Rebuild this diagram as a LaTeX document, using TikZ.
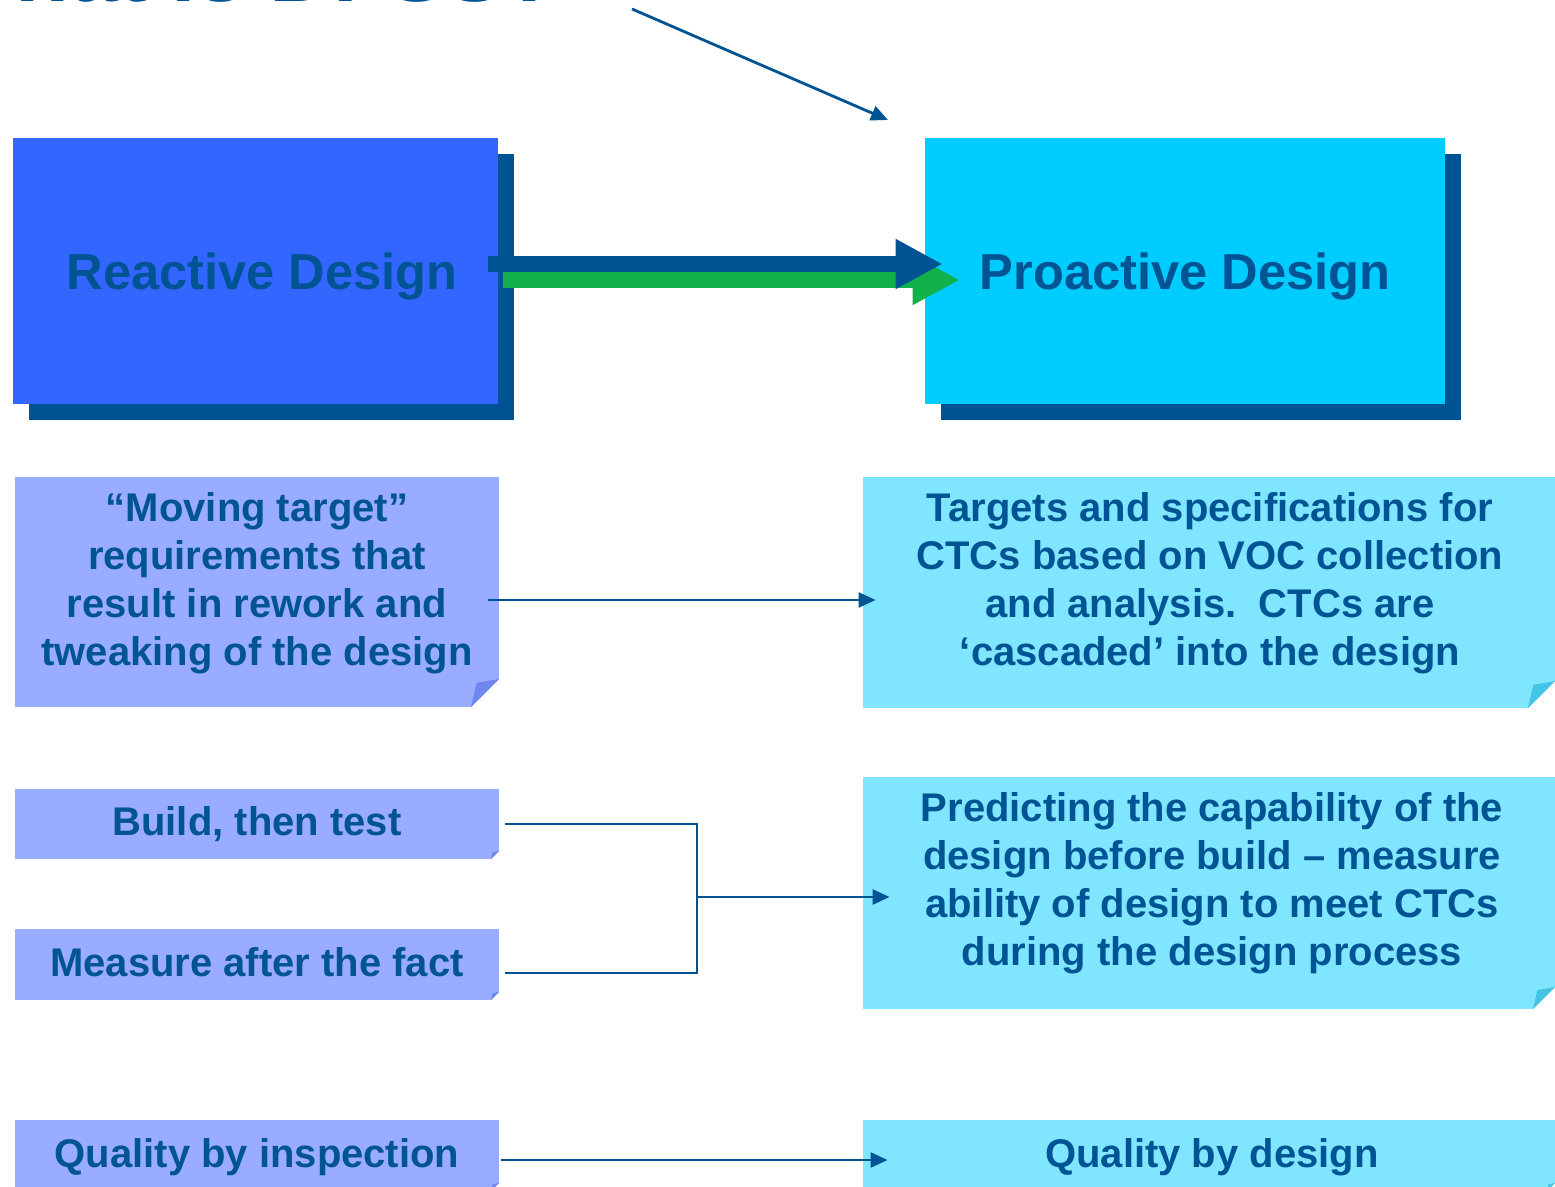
\documentclass[tikz,border=0pt]{standalone}
\usepackage{fontspec}
\setmainfont{Liberation Sans}
\usetikzlibrary{arrows.meta,calc,shadows}
\definecolor{dblue}{RGB}{0,84,147}
\definecolor{reactblue}{RGB}{51,102,255}
\definecolor{problue}{RGB}{0,204,255}
\definecolor{lnote}{RGB}{153,172,255}
\definecolor{lflap}{RGB}{110,134,238}
\definecolor{rnote}{RGB}{128,230,255}
\definecolor{rflap}{RGB}{69,196,229}
\definecolor{agreen}{RGB}{17,176,74}
\tikzset{
  fold/.style 2 args={path picture={
    \coordinate (SE) at (path picture bounding box.south east);
    \fill[white] (SE) -- ([xshift=-#1]SE) -- ([yshift=#1]SE) -- cycle;
    \fill[#2] ([xshift=-#1]SE) -- ([xshift={-0.8*#1},yshift={0.86*#1}]SE) -- ([yshift=#1]SE) -- cycle;
  }},
  notebox/.style={draw=none, inner sep=0pt},
  notetext/.style={inner sep=0pt, align=center, text=dblue,
    font=\bfseries\fontsize{20pt}{24pt}\selectfont},
  bigbox/.style={inner sep=0pt,
    drop shadow={shadow xshift=8pt, shadow yshift=-8pt, opacity=1, fill=dblue}},
  bigtext/.style={inner sep=0pt, text=dblue,
    font=\bfseries\fontsize{25.3pt}{30pt}\selectfont},
  conn/.style={draw=dblue, line width=1.3pt, -{Triangle[length=8.5pt,width=7.5pt]}},
  plain/.style={draw=dblue, line width=1.3pt},
  bigarrow/.style={line width=8pt, -{Triangle[length=23.5pt,width=23.5pt]}}
}
\begin{document}
\begin{tikzpicture}[x=0.5pt,y=-0.5pt]
\clip (0,0) rectangle (1555,1187);
\fill[white] (0,0) rectangle (1555,1187);

% title (cut off at the top)
\node[anchor=base west, inner sep=0pt, text=dblue,
  font=\bfseries\fontsize{44pt}{52pt}\selectfont] (title) at (-68,2) {What is DFSS?};
\coordinate (ta) at (632,9);
\coordinate (tb) at (888,120);
\draw[conn, line width=1.4pt] (ta) -- (tb);

% big boxes
\node[bigbox, fill=reactblue, minimum width=242.5pt, minimum height=133pt] (rd) at (255.5,271) {};
\node[bigtext] (rdt) at (262,277) {Reactive Design};
\node[bigbox, fill=problue, minimum width=260pt, minimum height=133pt] (pd) at (1185,271) {};
\node[bigtext] (pdt) at (1185,277) {Proactive Design};

\draw[bigarrow, draw=agreen, fill=agreen] ($(rd.east)+(5,9)$) -- ($(pd.west)+(35,9)$);
\draw[bigarrow, draw=dblue, fill=dblue] ($(rd.east)+(-10,-7)$) -- ($(pd.west)+(18,-7)$);

% note boxes
\node[notebox, fill=lnote, fold={14pt}{lflap}, minimum width=242pt, minimum height=115pt] (l1) at (257,592) {};
\node[notetext] (l1t) at (257,583) {“Moving target”\\requirements that\\result in rework and\\tweaking of the design};

\node[notebox, fill=rnote, fold={13.5pt}{rflap}, minimum width=346pt, minimum height=115.5pt] (r1) at (1209,592.5) {};
\node[notetext] (r1t) at (1210,583) {Targets and specifications for\\CTCs based on VOC collection\\and analysis.\ \ CTCs are\\‘cascaded’ into the design};

\node[notebox, fill=lnote, fold={4pt}{lflap}, minimum width=242pt, minimum height=35pt] (l2) at (257,824) {};
\node[notetext] (l2t) at (257,824) {Build, then test};

\node[notebox, fill=lnote, fold={4pt}{lflap}, minimum width=242pt, minimum height=35.5pt] (l3) at (257,964.5) {};
\node[notetext] (l3t) at (257,962) {Measure after the fact};

\node[notebox, fill=rnote, fold={11pt}{rflap}, minimum width=346pt, minimum height=116pt] (r2) at (1209,893) {};
\node[notetext] (r2t) at (1212,883.5) {Predicting the capability of the\\design before build – measure\\ability of design to meet CTCs\\during the design process};

\node[notebox, fill=lnote, fold={4pt}{lflap}, minimum width=242pt, minimum height=35.5pt] (l4) at (257,1155.5) {};
\node[notetext] (l4t) at (257,1157) {Quality by inspection};

\node[notebox, fill=rnote, fold={4pt}{rflap}, minimum width=346pt, minimum height=35.5pt] (r4) at (1209,1155.5) {};
\node[notetext] (r4t) at (1212,1157) {Quality by design};

% connectors
\draw[conn] ($(l1.east)+(-11,8)$) -- ($(r1.west)+(13,7.5)$);
\coordinate (jn) at (697,897);
\draw[plain] ($(l2.east)+(6,0)$) -| (jn) |- ($(l3.east)+(6,8.5)$);
\draw[conn] (jn) -- ($(jn -| r2.west)+(27,0)$);
\draw[conn] ($(l4.east)+(2,4.5)$) -- ($(r4.west)+(25,4.5)$);
\end{tikzpicture}
\end{document}
